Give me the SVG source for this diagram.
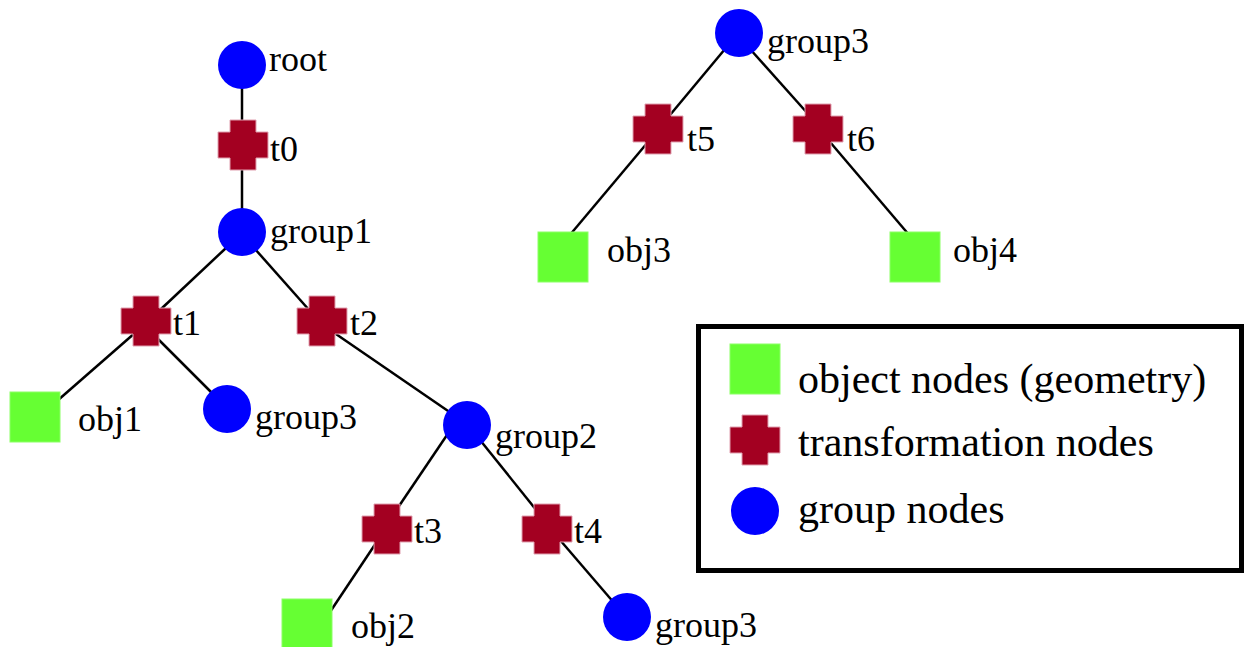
<svg xmlns="http://www.w3.org/2000/svg" width="1249" height="647" viewBox="0 0 1249 647">
<style>
.edge{stroke:#000;stroke-width:2.5;fill:none}
.grp{fill:#0000ff}
.obj{fill:#66ff33;stroke:#8cff66;stroke-width:1}
.trf{fill:#a30021;stroke:#e0a0b0;stroke-width:1}
text{font-family:"Liberation Serif","Times New Roman",serif;font-size:36px;fill:#000}
.lg{font-size:42px}
</style>
<defs>
<path id="cross" d="M-13,-25 H13 V-13 H25 V13 H13 V25 H-13 V13 H-25 V-13 H-13 Z"/>
</defs>
<rect width="1249" height="647" fill="#fff"/>
<g id="connectors">
<line class="edge" x1="242" y1="85" x2="242" y2="125"/>
<line class="edge" x1="242" y1="165" x2="242" y2="212"/>
<line class="edge" x1="226" y1="248" x2="160" y2="310"/>
<line class="edge" x1="255" y1="249" x2="310" y2="311"/>
<line class="edge" x1="136" y1="332" x2="57" y2="401"/>
<line class="edge" x1="157" y1="338" x2="215" y2="396"/>
<line class="edge" x1="333" y1="332" x2="451" y2="413"/>
<line class="edge" x1="447" y1="435" x2="397" y2="509"/>
<line class="edge" x1="480" y1="440" x2="537" y2="511"/>
<line class="edge" x1="376" y1="543" x2="330" y2="612"/>
<line class="edge" x1="560" y1="540" x2="615" y2="604"/>
<line class="edge" x1="725" y1="49" x2="670" y2="115"/>
<line class="edge" x1="750" y1="49" x2="809" y2="115"/>
<line class="edge" x1="648" y1="142" x2="569" y2="236"/>
<line class="edge" x1="830" y1="142" x2="910" y2="236"/>
</g>
<g id="root"><circle class="grp" cx="242" cy="65" r="24"/><text x="269" y="71">root</text></g>
<g id="t0"><use href="#cross" class="trf" x="243" y="145"/><text x="270" y="161">t0</text></g>
<g id="group1"><circle class="grp" cx="242" cy="232" r="24"/><text x="270" y="243">group1</text></g>
<g id="t1"><use href="#cross" class="trf" x="146" y="321"/><text x="173" y="335">t1</text></g>
<g id="t2"><use href="#cross" class="trf" x="322" y="321"/><text x="350" y="335">t2</text></g>
<g id="obj1"><rect class="obj" x="10" y="392" width="50" height="50"/><text x="78" y="431">obj1</text></g>
<g id="group3a"><circle class="grp" cx="227" cy="409" r="24"/><text x="255" y="429">group3</text></g>
<g id="group2"><circle class="grp" cx="467" cy="425" r="24"/><text x="495" y="448">group2</text></g>
<g id="t3"><use href="#cross" class="trf" x="387" y="529"/><text x="414" y="543">t3</text></g>
<g id="t4"><use href="#cross" class="trf" x="547" y="529"/><text x="574" y="543">t4</text></g>
<g id="obj2"><rect class="obj" x="282" y="599" width="50" height="50"/><text x="351" y="638">obj2</text></g>
<g id="group3b"><circle class="grp" cx="627" cy="617" r="24"/><text x="655" y="637">group3</text></g>
<g id="group3c"><circle class="grp" cx="739" cy="33" r="24"/><text x="767" y="53">group3</text></g>
<g id="t5"><use href="#cross" class="trf" x="658" y="129"/><text x="687" y="151">t5</text></g>
<g id="t6"><use href="#cross" class="trf" x="818" y="129"/><text x="847" y="151">t6</text></g>
<g id="obj3"><rect class="obj" x="538" y="232" width="50" height="50"/><text x="607" y="262">obj3</text></g>
<g id="obj4"><rect class="obj" x="890" y="232" width="50" height="50"/><text x="953" y="262">obj4</text></g>
<g id="legend">
<rect x="698.5" y="326.5" width="543" height="244" fill="#fff" stroke="#000" stroke-width="5"/>
<rect class="obj" x="730" y="344" width="50" height="50"/>
<text class="lg" x="798" y="393">object nodes (geometry)</text>
<use href="#cross" class="trf" x="755" y="440"/>
<text class="lg" x="798" y="456">transformation nodes</text>
<circle class="grp" cx="755" cy="511" r="24"/>
<text class="lg" x="798" y="523">group nodes</text>
</g>
</svg>
